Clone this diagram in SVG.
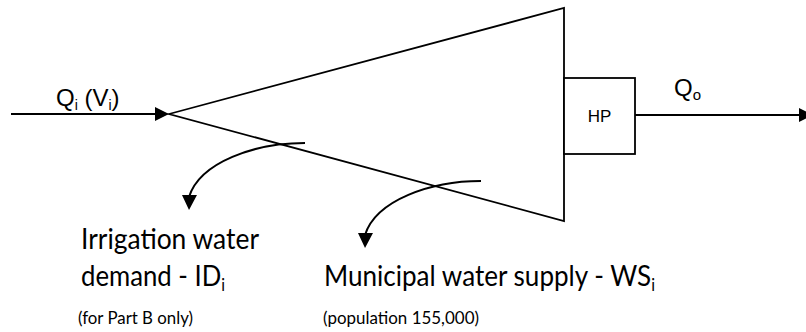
<svg xmlns="http://www.w3.org/2000/svg" width="806" height="332" viewBox="0 0 806 332">
<defs>
<style>
.ln{fill:none;stroke:#000;stroke-width:2}
.sh{fill:#fff;stroke:#000;stroke-width:1.8}
.ah{fill:#000;stroke:none}
.sym{font-family:"Liberation Sans",Arial,sans-serif;fill:#000}
.cal{font-family:Lato,"Open Sans",sans-serif;fill:#000}
.big{font-size:28px}
.small{font-size:18px}
.sub{font-size:17px}
</style>
</defs>
<rect width="806" height="332" fill="#fff"/>
<g id="connectors">
  <line class="ln" x1="11" y1="114" x2="157" y2="114"/>
  <polygon class="ah" points="169,114 155,107 155,121"/>
  <line class="ln" x1="635" y1="115" x2="801" y2="115"/>
  <polygon class="ah" points="813,115 799,108 799,122"/>
</g>
<g id="reservoir">
  <polygon class="sh" points="169,114 564,8 564,221"/>
</g>
<g id="hp">
  <rect class="sh" x="564" y="78" width="71" height="76"/>
  <text class="sym" x="599.5" y="122" font-size="17" text-anchor="middle">HP</text>
</g>
<g id="inflow-label">
  <text class="sym" x="56" y="106" font-size="24">Q<tspan font-size="14" dy="4">i</tspan><tspan dy="-4"> (V</tspan><tspan font-size="14" dy="4">i</tspan><tspan dy="-4">)</tspan></text>
</g>
<g id="outflow-label">
  <text class="sym" x="674" y="96" font-size="24">Q<tspan font-size="15" dy="4">o</tspan></text>
</g>
<g id="withdrawals">
  <g id="irrigation-arrow">
    <path class="ln" d="M305,143 C255,143 200,162 189,197"/>
    <polygon class="ah" points="189,210 182,195 197,195"/>
  </g>
  <g id="municipal-arrow" transform="translate(176,38)">
    <path class="ln" d="M305,143 C255,143 200,162 189,197"/>
    <polygon class="ah" points="189,210 182,195 197,195"/>
  </g>
</g>
<g id="irrigation">
  <text class="cal big" x="81" y="249" textLength="178" lengthAdjust="spacingAndGlyphs">Irrigation water</text>
  <text class="cal big" x="81" y="286" textLength="144" lengthAdjust="spacingAndGlyphs">demand - ID<tspan class="sub" dy="5">i</tspan></text>
  <text class="cal small" x="78" y="324" textLength="115" lengthAdjust="spacingAndGlyphs">(for Part B only)</text>
</g>
<g id="municipal">
  <text class="cal big" x="324" y="286" textLength="331" lengthAdjust="spacingAndGlyphs">Municipal water supply - WS<tspan class="sub" dy="5">i</tspan></text>
  <text class="cal small" x="323" y="324" textLength="156" lengthAdjust="spacingAndGlyphs">(population 155,000)</text>
</g>
</svg>
